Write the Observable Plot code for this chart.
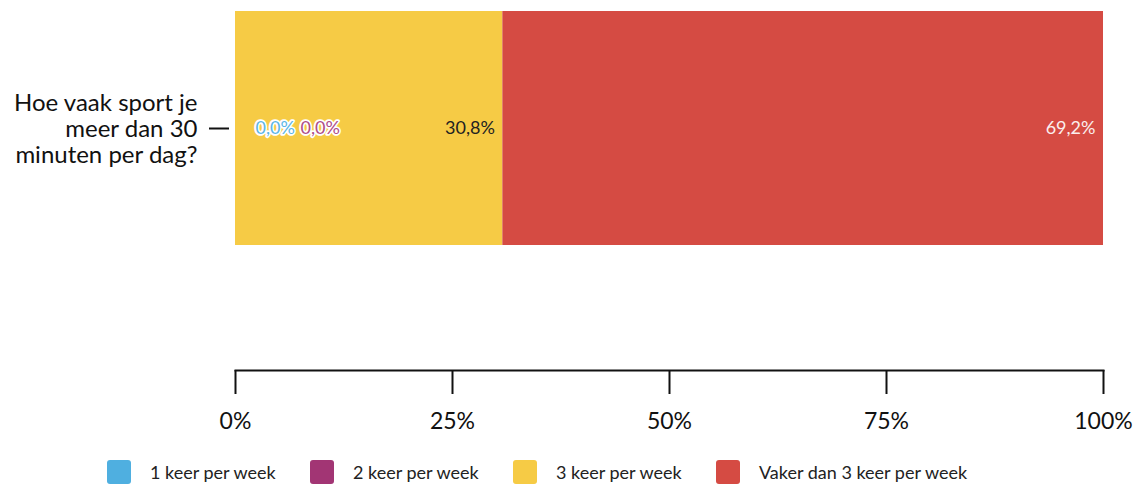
<!DOCTYPE html>
<html>
<head>
<meta charset="utf-8">
<script src="https://cdn.jsdelivr.net/npm/d3@7"></script>
<script src="https://cdn.jsdelivr.net/npm/@observablehq/plot@0.6"></script>
<style>
  html, body { margin: 0; padding: 0; background: #fff; }
  body { width: 1142px; height: 485px; overflow: hidden; font-family: Lato, "Noto Sans", sans-serif; }
  #chart svg { display: block; }
  #legend { display: flex; align-items: center; height: 26px; margin-top: 14px; padding-left: 107px; font-size: 18px; color: #222; }
  .item { display: flex; align-items: center; width: 203px; white-space: nowrap; flex: none; }
  .item:last-child { width: auto; }
  .sw { width: 24px; height: 24px; border-radius: 3px; margin-right: 19px; flex: none; }
</style>
</head>
<body>
<div id="chart"></div>
<div id="legend"></div>
<script>
const question = "Hoe vaak sport je meer dan 30 minuten per dag?";
const questionLines = ["Hoe vaak sport je", "meer dan 30", "minuten per dag?"];
const categories = ["1 keer per week", "2 keer per week", "3 keer per week", "Vaker dan 3 keer per week"];
const values = [0.0, 0.0, 30.8, 69.2];
const colors = ["#4fafe0", "#a23574", "#f6cb45", "#d54b43"];
const labelColors = ["#5cb6e6", "#ae4d88", "#222222", "#fbeeee"];
const xTicks = [0, 25, 50, 75, 100];

const data = categories.map((c, i) => ({q: question, cat: c, value: values[i], idx: i}));
const fmt = v => v.toFixed(1).replace(".", ",") + "%";

const zeroMarks = data.filter(d => d.value === 0).map((d, k) =>
  Plot.text([d], Plot.stackX1({
    x: "value", y: "q", text: r => fmt(r.value),
    textAnchor: "start", dx: 20 + k * 45,
    fill: labelColors[d.idx], stroke: "white", strokeWidth: 3.5,
    fontSize: 18
  }))
);

const chart = Plot.plot({
  width: 1142,
  height: 445,
  marginLeft: 235,
  marginRight: 39,
  marginTop: 11,
  marginBottom: 75,
  style: {fontFamily: "Lato, 'Noto Sans', sans-serif", color: "#111"},
  x: {domain: [0, 100]},
  y: {domain: [question], range: [11, 245], padding: 0},
  color: {domain: categories, range: colors},
  marks: [
    Plot.barX(data, Plot.stackX({x: "value", y: "q", fill: "cat", order: categories, inset: 0})),
    Plot.text(data.filter(d => d.value > 0), Plot.stackX2({
      x: "value", y: "q", text: d => fmt(d.value),
      textAnchor: "end", dx: -8, fontSize: 18,
      fill: d => labelColors[d.idx]
    })),
    ...zeroMarks,
    Plot.frame({anchor: "bottom", strokeWidth: 2, stroke: "#111"}),
    Plot.axisX({
      ticks: xTicks, tickFormat: d => d + "%", tickSize: 24, tickPadding: 18,
      fontSize: 23, strokeWidth: 2, stroke: "#111", label: null
    }),
    Plot.axisY({
      tickSize: 20, dx: -6, tickPadding: 12, fontSize: 24, strokeWidth: 2,
      lineHeight: 1.1, stroke: "#111",
      tickFormat: () => questionLines.join("\n"), label: null
    })
  ]
});
document.getElementById("chart").appendChild(chart);

const legend = document.getElementById("legend");
categories.forEach((c, i) => {
  const item = document.createElement("div");
  item.className = "item";
  const sw = document.createElement("div");
  sw.className = "sw";
  sw.style.background = colors[i];
  const t = document.createElement("span");
  t.textContent = c;
  item.appendChild(sw); item.appendChild(t);
  legend.appendChild(item);
});
</script>
</body>
</html>
